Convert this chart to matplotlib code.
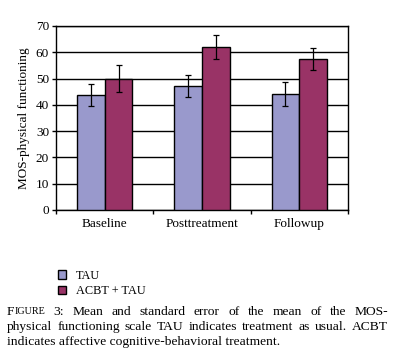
import numpy as np
import matplotlib
matplotlib.use("Agg")
import matplotlib.pyplot as plt
from matplotlib.patches import Patch

plt.rcParams['font.family'] = ['Liberation Serif', 'DejaVu Serif']

# data
categories = ['Baseline', 'Posttreatment', 'Followup']
series = ['TAU', 'ACBT + TAU']
tau_mean = [43.8, 47.2, 44.0]
tau_se = [4.2, 4.2, 4.6]
acbt_mean = [50.0, 62.0, 57.4]
acbt_se = [5.0, 4.5, 4.2]
yticks = [0, 10, 20, 30, 40, 50, 60, 70]

colors = ['#9999CC', '#993366']

W, H = 401, 364
fig = plt.figure(figsize=(W / 100, H / 100), dpi=100)
ax = fig.add_axes([56 / W, 1 - 210 / H, 292 / W, 184 / H])

x = np.arange(len(categories))
bw = 0.285
ax.bar(x - bw / 2, tau_mean, bw, yerr=tau_se, color=colors[0], edgecolor='black',
       linewidth=1.0, capsize=2.5, error_kw=dict(elinewidth=0.9, capthick=0.9), zorder=3)
ax.bar(x + bw / 2, acbt_mean, bw, yerr=acbt_se, color=colors[1], edgecolor='black',
       linewidth=1.0, capsize=2.5, error_kw=dict(elinewidth=0.9, capthick=0.9), zorder=3)

ax.set_xlim(-0.5, len(categories) - 0.5)
ax.set_ylim(0, 70)
ax.set_yticks(yticks)
ax.set_yticklabels([str(v) for v in yticks], fontsize=9.5)
ax.yaxis.grid(True, color='black', linewidth=1.0, zorder=0)
ax.set_axisbelow(True)

# category labels centred, tick marks between groups
ax.set_xticks(x)
ax.set_xticklabels(categories, fontsize=9.5)
ax.tick_params(axis='x', length=0, pad=6)
ax.set_xticks(np.arange(-0.5, len(categories)), minor=True)
ax.tick_params(axis='x', which='minor', length=3, direction='out', width=1)
ax.tick_params(axis='y', length=3, width=1, pad=2)
for s in ax.spines.values():
    s.set_linewidth(1.0)

ax.set_ylabel('MOS-physical functioning', fontsize=9.5, labelpad=4)

handles = [Patch(facecolor=c, edgecolor='black', linewidth=1.0) for c in colors]
fig.legend(handles, series, loc='upper left', bbox_to_anchor=(49 / W, 1 - 261 / H),
           frameon=False, fontsize=8.8, handlelength=0.7, handleheight=0.7,
           handletextpad=0.8, labelspacing=0.3, borderpad=0.2)

# caption, first two lines justified, "Figure" in small caps
fs = 9.7
r = fig.canvas.get_renderer()
left, right = 7, 388


def justify(pieces, ypix):
    # pieces: list of (text, fontsize, gap_after)
    ws = []
    for txt, size, _ in pieces:
        t = fig.text(0, 0, txt, fontsize=size)
        ws.append(t.get_window_extent(r).width)
        t.remove()
    ngaps = sum(1 for p in pieces[:-1] if p[2])
    gap = (right - left - sum(ws)) / max(ngaps, 1)
    xp = left
    for (txt, size, g), w in zip(pieces, ws):
        fig.text(xp / W, 1 - ypix / H, txt, fontsize=size, va='center')
        xp += w + (gap if g else 0)


line1 = [('F', fs, False), ('IGURE', fs * 0.75, True)]
line1 += [(w, fs, True) for w in '3: Mean and standard error of the mean of the MOS-'.split()]
justify(line1, 312)
line2 = [(w, fs, True) for w in
         'physical functioning scale TAU indicates treatment as usual. ACBT'.split()]
justify(line2, 327)
fig.text(left / W, 1 - 342 / H, 'indicates affective cognitive-behavioral treatment.',
         fontsize=fs, va='center')

fig.savefig('out.png', dpi=100)
